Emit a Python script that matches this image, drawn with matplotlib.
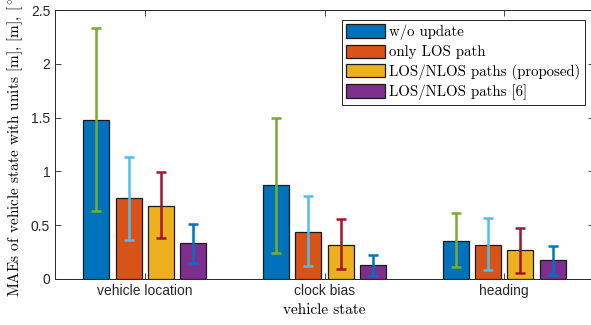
import numpy as np
import matplotlib
matplotlib.use("Agg")
import matplotlib.pyplot as plt

# data
categories = ['vehicle location', 'clock bias', 'heading']
series_names = ['w/o update', 'only LOS path', 'LOS/NLOS paths (proposed)', 'LOS/NLOS paths [6]']
mae_wo = [1.48, 0.87, 0.355]
mae_los = [0.75, 0.44, 0.32]
mae_prop = [0.68, 0.32, 0.27]
mae_ref6 = [0.33, 0.13, 0.175]
low_wo = [0.63, 0.24, 0.11]
high_wo = [2.33, 1.50, 0.61]
low_los = [0.36, 0.12, 0.08]
high_los = [1.13, 0.77, 0.57]
low_prop = [0.38, 0.09, 0.06]
high_prop = [0.99, 0.56, 0.47]
low_ref6 = [0.15, 0.03, 0.04]
high_ref6 = [0.51, 0.22, 0.31]

bar_colors = ['#0072BD', '#D95319', '#EDB120', '#7E2F8E']
err_colors = ['#77AC30', '#4DBEEE', '#A2142F', '#0072BD']

plt.rcParams['mathtext.fontset'] = 'cm'
plt.rcParams['axes.unicode_minus'] = False

fig = plt.figure(figsize=(5.91, 3.25), dpi=100)
ax = fig.add_axes([55 / 591, 1 - 279 / 325, 539 / 591, 269 / 325])

x = np.arange(1, len(categories) + 1)
means = [mae_wo, mae_los, mae_prop, mae_ref6]
lows = [low_wo, low_los, low_prop, low_ref6]
highs = [high_wo, high_los, high_prop, high_ref6]
offsets = [-0.27, -0.09, 0.09, 0.27]
width = 0.145

for k in range(4):
    m = np.array(means[k])
    ax.bar(x + offsets[k], m, width, color=bar_colors[k], edgecolor='#1a1a1a',
           linewidth=0.9, label=series_names[k], zorder=2)
    yerr = [m - np.array(lows[k]), np.array(highs[k]) - m]
    ax.errorbar(x + offsets[k], m, yerr=yerr, fmt='none', ecolor=err_colors[k],
                elinewidth=1.8, capsize=3.5, capthick=1.8, zorder=3)

ax.set_xlim(0.5, 3.5)
ax.set_ylim(0, 2.5)
ax.set_xticks(x)
ax.set_xticklabels(categories, fontsize=10, family='Liberation Sans')
ax.set_yticks([0, 0.5, 1, 1.5, 2, 2.5])
ax.set_yticklabels(['0', '0.5', '1', '1.5', '2', '2.5'], fontsize=10, family='Liberation Sans')
ax.tick_params(direction='in', top=True, right=True, length=4, width=0.6, colors='#262626')
for s in ax.spines.values():
    s.set_linewidth(0.7)
    s.set_color('#262626')

ax.set_xlabel('vehicle state', family='cmr10', fontsize=11, labelpad=4)
ax.set_ylabel(r'MAEs of vehicle state with units [m], [m], [$^\circ$]', family='cmr10', fontsize=11, labelpad=4)

leg = ax.legend(loc='upper right', bbox_to_anchor=(0.983, 0.963), prop={'family': 'cmr10', 'size': 10.7},
                fancybox=False, framealpha=1, edgecolor='#262626', handlelength=2.6,
                handleheight=1.0, handletextpad=0.3, labelspacing=0.3, borderpad=0.3,
                borderaxespad=0)
leg.get_frame().set_linewidth(0.7)

fig.savefig('out.png', dpi=100)
